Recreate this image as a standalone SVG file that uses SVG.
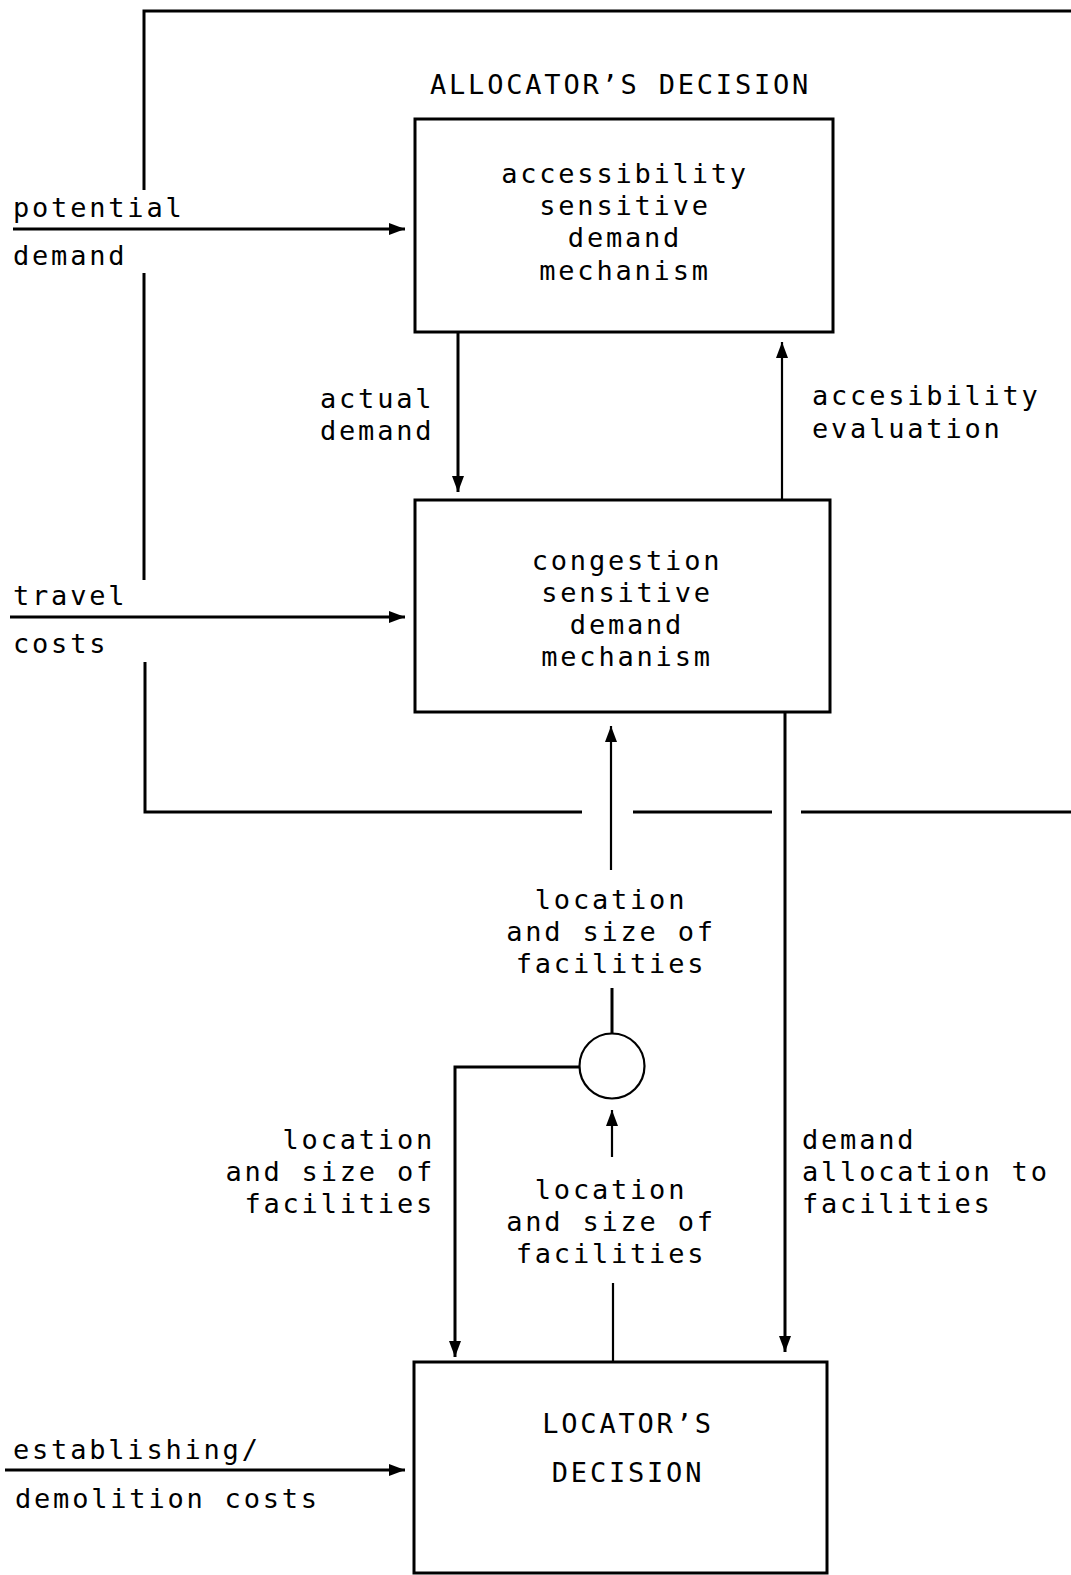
<svg xmlns="http://www.w3.org/2000/svg" width="1071" height="1575" viewBox="0 0 1071 1575">
  <style>
    .t { font-family: "DejaVu Sans Mono", "Liberation Mono", monospace; font-size: 27px; letter-spacing: 2.8px; fill: #000; }
    .c { text-anchor: middle; }
    .e { text-anchor: end; }
    .box { fill: #fff; stroke: #000; stroke-width: 3; }
    .ln { fill: none; stroke: #000; stroke-width: 3; }
    .thin { fill: none; stroke: #000; stroke-width: 2.2; }
  </style>
  <defs>
    <marker id="arr" viewBox="0 0 16 12" refX="16" refY="6" markerWidth="16" markerHeight="12" markerUnits="userSpaceOnUse" orient="auto">
      <path d="M0,0 L16,6 L0,12 Z" fill="#000"/>
    </marker>
  </defs>
  <rect width="1071" height="1575" fill="#fff"/>

  <!-- connectors -->
  <g id="connectors">
    <!-- outer feedback loop -->
    <path class="ln" d="M1071,11 H144 V190"/>
    <path class="ln" d="M144,273 V580"/>
    <path class="ln" d="M145,662 V812 H582"/>
    <path class="ln" d="M633,812 H772"/>
    <path class="ln" d="M801,812 H1071"/>
    <!-- external inputs -->
    <path class="ln" d="M13,229 H405" marker-end="url(#arr)"/>
    <path class="ln" d="M10,617 H405" marker-end="url(#arr)"/>
    <path class="ln" d="M5,1470 H405" marker-end="url(#arr)"/>
    <!-- between demand mechanisms -->
    <path class="ln" d="M458,332 V492" marker-end="url(#arr)"/>
    <path class="thin" d="M782,500 V342" marker-end="url(#arr)"/>
    <!-- facilities towards congestion mechanism -->
    <path class="thin" d="M611,870 V726" marker-end="url(#arr)"/>
    <path class="ln" d="M612,988 V1033"/>
    <path class="thin" d="M612,1157 V1110" marker-end="url(#arr)"/>
    <path class="thin" d="M613,1283 V1363"/>
    <!-- circle branch down to locator -->
    <path class="ln" d="M579,1067 H455 V1357" marker-end="url(#arr)"/>
    <!-- demand allocation -->
    <path class="ln" d="M785,713 V1352" marker-end="url(#arr)"/>
  </g>

  <g id="allocator-title">
    <text class="t" x="430" y="94">ALLOCATOR’S DECISION</text>
  </g>

  <g id="accessibility-mechanism">
    <rect class="box" x="415" y="119" width="418" height="213"/>
    <text class="t c" x="625" y="183">accessibility</text>
    <text class="t c" x="625" y="215">sensitive</text>
    <text class="t c" x="625" y="247">demand</text>
    <text class="t c" x="625" y="280">mechanism</text>
  </g>

  <g id="congestion-mechanism">
    <rect class="box" x="415" y="500" width="415" height="212"/>
    <text class="t c" x="627" y="570">congestion</text>
    <text class="t c" x="627" y="602">sensitive</text>
    <text class="t c" x="627" y="634">demand</text>
    <text class="t c" x="627" y="666">mechanism</text>
  </g>

  <g id="junction">
    <circle cx="612" cy="1066" r="32.5" fill="#fff" stroke="#000" stroke-width="2.2"/>
  </g>

  <g id="locator-decision">
    <rect class="box" x="414" y="1362" width="413" height="211"/>
    <text class="t c" x="628" y="1433">LOCATOR’S</text>
    <text class="t c" x="628" y="1482">DECISION</text>
  </g>

  <g id="labels">
    <text class="t" x="13" y="217">potential</text>
    <text class="t" x="13" y="265">demand</text>
    <text class="t" x="13" y="605">travel</text>
    <text class="t" x="13" y="653">costs</text>
    <text class="t" x="13" y="1459">establishing/</text>
    <text class="t" x="15" y="1508">demolition costs</text>

    <text class="t" x="320" y="408">actual</text>
    <text class="t" x="320" y="440">demand</text>

    <text class="t" x="812" y="405">accesibility</text>
    <text class="t" x="812" y="438">evaluation</text>

    <text class="t c" x="611" y="909">location</text>
    <text class="t c" x="611" y="941">and size of</text>
    <text class="t c" x="611" y="973">facilities</text>

    <text class="t e" x="435" y="1149">location</text>
    <text class="t e" x="435" y="1181">and size of</text>
    <text class="t e" x="435" y="1213">facilities</text>

    <text class="t c" x="611" y="1199">location</text>
    <text class="t c" x="611" y="1231">and size of</text>
    <text class="t c" x="611" y="1263">facilities</text>

    <text class="t" x="802" y="1149">demand</text>
    <text class="t" x="802" y="1181">allocation to</text>
    <text class="t" x="802" y="1213">facilities</text>
  </g>
</svg>
